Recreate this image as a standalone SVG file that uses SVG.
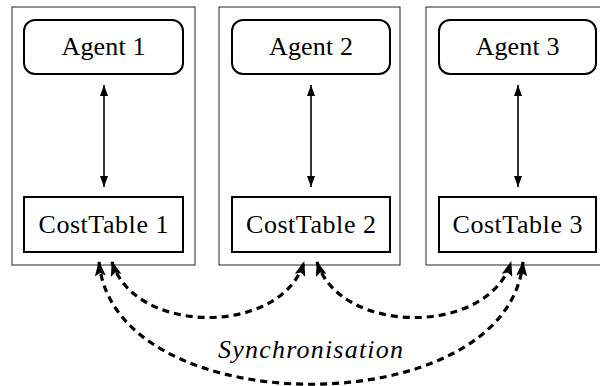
<svg xmlns="http://www.w3.org/2000/svg" width="600" height="386" viewBox="0 0 600 386">
<style>
.outer{fill:none;stroke:#222;stroke-width:1}
.node{fill:none;stroke:#000;stroke-width:2}
.link{fill:none;stroke:#000;stroke-width:1.6}
.sync{fill:none;stroke:#000;stroke-width:3.2;stroke-dasharray:7 5}
text{font-family:"Liberation Serif",serif;font-size:26px;text-anchor:middle;fill:#000}
</style>
<defs>
<marker id="ah" viewBox="0 0 11 8" refX="11" refY="4" markerWidth="11" markerHeight="8" markerUnits="userSpaceOnUse" orient="auto-start-reverse">
<path d="M0,0 L11,4 L0,8 Z" fill="#000" stroke="none"/>
</marker>
<marker id="ahb" viewBox="0 0 15 11" refX="14" refY="5.5" markerWidth="15" markerHeight="11" markerUnits="userSpaceOnUse" orient="auto-start-reverse">
<path d="M0,0 L15,5.5 L0,11 L3,5.5 Z" fill="#000" stroke="none"/>
</marker>
</defs>
<g id="group1">
<rect class="outer" x="12" y="7" width="183" height="258"/>
</g>
<g id="group2">
<rect class="outer" x="219" y="7" width="181" height="258"/>
</g>
<g id="group3">
<rect class="outer" x="426" y="7" width="183" height="258"/>
</g>
<g id="agent1"><rect class="node" x="24" y="20" width="159" height="54" rx="11"/><text x="103.5" y="55" textLength="84">Agent 1</text></g>
<g id="agent2"><rect class="node" x="232" y="20" width="158" height="54" rx="11"/><text x="311" y="55" textLength="84">Agent 2</text></g>
<g id="agent3"><rect class="node" x="439" y="20" width="157" height="54" rx="11"/><text x="517.5" y="55" textLength="84">Agent 3</text></g>
<g id="cost1"><rect class="node" x="24" y="197" width="159" height="55"/><text x="103.5" y="233" textLength="130">CostTable 1</text></g>
<g id="cost2"><rect class="node" x="232" y="197" width="158" height="55"/><text x="311" y="233" textLength="130">CostTable 2</text></g>
<g id="cost3"><rect class="node" x="439" y="197" width="157" height="55"/><text x="517.5" y="233" textLength="130">CostTable 3</text></g>
<g id="connectors">
<path class="link" d="M104,85 L104,187" marker-start="url(#ah)" marker-end="url(#ah)"/>
<path class="link" d="M311,85 L311,187" marker-start="url(#ah)" marker-end="url(#ah)"/>
<path class="link" d="M518,85 L518,187" marker-start="url(#ah)" marker-end="url(#ah)"/>
<path class="sync" d="M112,262 C135,336 282,336 304,262" marker-start="url(#ahb)" marker-end="url(#ahb)"/>
<path class="sync" d="M317,262 C340,336 489,336 511,262" marker-start="url(#ahb)" marker-end="url(#ahb)"/>
<path class="sync" d="M99,262 C114,425 508,425 523,262" marker-start="url(#ahb)" marker-end="url(#ahb)"/>
<text x="310.5" y="358" textLength="185" font-style="italic">Synchronisation</text>
</g>
</svg>
